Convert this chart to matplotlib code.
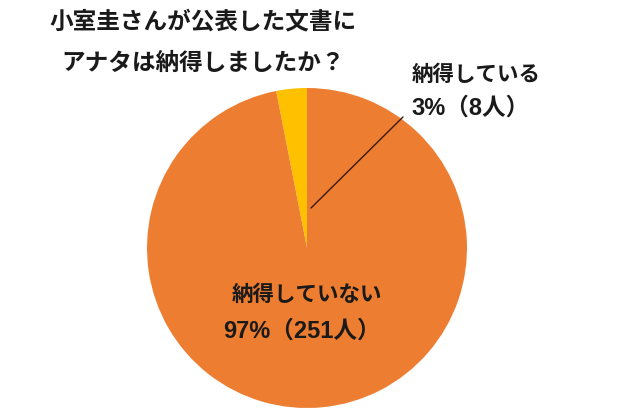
import matplotlib
matplotlib.use("Agg")
import matplotlib.pyplot as plt

plt.rcParams['font.family'] = ['Liberation Sans', 'Noto Sans CJK JP', 'DejaVu Sans']

# Survey answers
categories = ["納得している", "納得していない"]
counts = [8, 251]
colors = ["#FFC000", "#ED7D31"]
title_lines = ["小室圭さんが公表した文書に", "アナタは納得しましたか？"]

W, H = 620, 413
fig = plt.figure(figsize=(W / 100, H / 100), dpi=100)
ax = fig.add_axes([0, 0, 1, 1])

cx, cy, r = 307, H - 248, 160
ax.pie(counts, colors=colors, startangle=90, counterclock=True,
       center=(cx, cy), radius=r,
       wedgeprops=dict(linewidth=0))
ax.set_xlim(0, W)
ax.set_ylim(0, H)
ax.set_aspect("equal")
ax.axis("off")

total = sum(counts)
pcts = [round(c / total * 100) for c in counts]

txt = dict(fontweight="bold", color="#1a1a1a", ha="center", va="center")

# Title
ax.text(203, H - 22, title_lines[0], fontsize=17, **txt)
ax.text(203, H - 63, title_lines[1], fontsize=17, **txt)

# Small slice label with leader line
ax.annotate("", xy=(cx + 2, cy + 38), xytext=(cx + 98, cy + 133),
            arrowprops=dict(arrowstyle="-", color="#3a1a10", lw=1.0))
ax.text(476, H - 75, categories[0], fontsize=15.5, **txt)
ax.text(471, H - 108, f"{pcts[0]}%（{counts[0]}人）", fontsize=17, **txt)

# Large slice label
ax.text(307, H - 295, categories[1], fontsize=15.5, **txt)
ax.text(302, H - 331, f"{pcts[1]}%（{counts[1]}人）", fontsize=17, **txt)

fig.savefig("out.png", dpi=100)
